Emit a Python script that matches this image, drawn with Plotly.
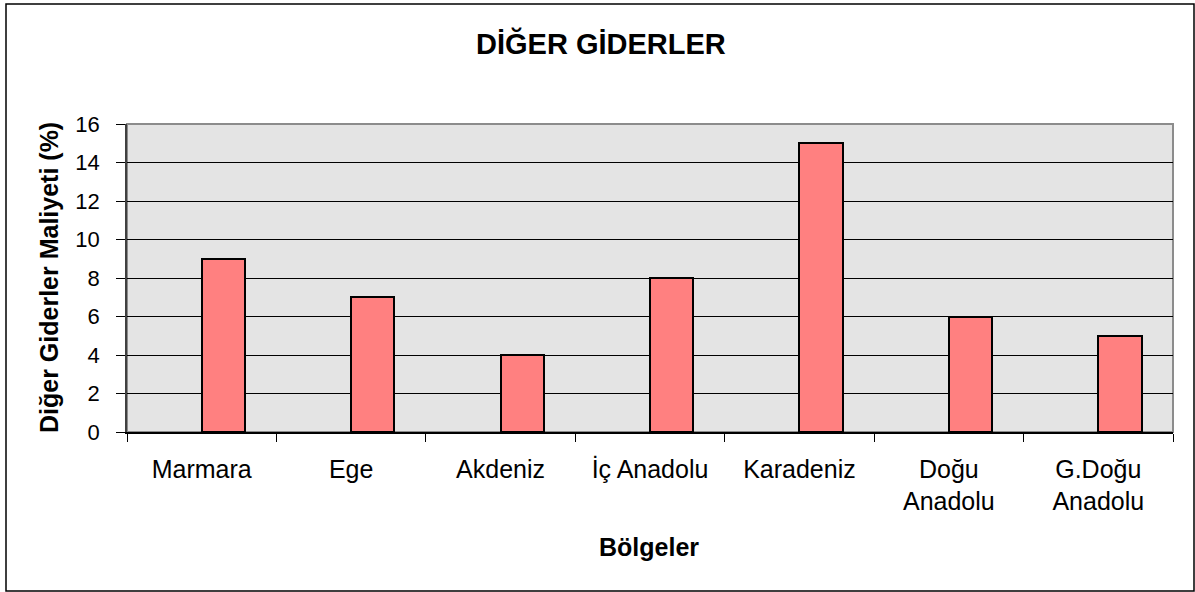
import plotly.graph_objects as go

categories = ["Marmara", "Ege", "Akdeniz", "İç Anadolu", "Karadeniz", "Doğu<br>Anadolu", "G.Doğu<br>Anadolu"]
values = [9, 7, 4, 8, 15, 6, 5]
y_ticks = [0, 2, 4, 6, 8, 10, 12, 14, 16]

W, H = 1195, 592
L, R, T, B = 127, 1173, 124, 432

def px(x):
    return (x - L) / (R - L)

def py(y):
    return (B - y) / (B - T)

fig = go.Figure(go.Bar(
    x=categories, y=values, width=0.29, offset=0,
    marker=dict(color="#FF8080", line=dict(color="black", width=2)),
))

font = "Liberation Sans, Arial, sans-serif"
fig.update_layout(
    width=W, height=H,
    margin=dict(l=L, r=W - R, t=T, b=H - B),
    paper_bgcolor="white", plot_bgcolor="#E4E4E4",
    font=dict(family=font, color="black", size=25),
    showlegend=False,
    bargap=0,
)
fig.update_xaxes(
    showline=True, linecolor="black", linewidth=1.5,
    ticks="outside", tickson="boundaries", ticklen=8, tickcolor="black", tickwidth=1,
    tickfont=dict(size=25), showgrid=False, ticklabelstandoff=14,
)
fig.update_yaxes(
    range=[0, 16], tickvals=y_ticks, showline=True, linecolor="#404040", linewidth=1.5,
    ticks="outside", ticklen=9, tickcolor="black", tickwidth=1, showgrid=True, gridcolor="black", gridwidth=1,
    tickfont=dict(size=22), zeroline=False, ticklabelstandoff=12,
)
# plot area border (top/right in grey)
fig.add_shape(type="rect", xref="paper", yref="paper", x0=0, x1=1, y0=0, y1=1,
              line=dict(color="#8C8C8C", width=2), fillcolor="rgba(0,0,0,0)", layer="below")
fig.add_annotation(text="<b>DİĞER GİDERLER</b>", x=px(601), y=py(43), xref="paper", yref="paper",
                   showarrow=False, font=dict(size=29, family=font), xanchor="center", yanchor="middle")
fig.add_annotation(text="<b>Diğer Giderler Maliyeti (%)</b>", x=px(49), y=py(278), xref="paper", yref="paper",
                   showarrow=False, textangle=-90, font=dict(size=25, family=font), xanchor="center", yanchor="middle")
fig.add_annotation(text="<b>Bölgeler</b>", x=px(649), y=py(547), xref="paper", yref="paper",
                   showarrow=False, font=dict(size=25, family=font), xanchor="center", yanchor="middle")
fig.add_shape(type="rect", xref="paper", yref="paper", x0=px(6), x1=px(1194), y0=py(591), y1=py(4),
              line=dict(color="black", width=1.5), fillcolor="rgba(0,0,0,0)", layer="above")

fig.write_html("out.html", config={"displayModeBar": False},
               post_script="document.body.style.margin='0';")
